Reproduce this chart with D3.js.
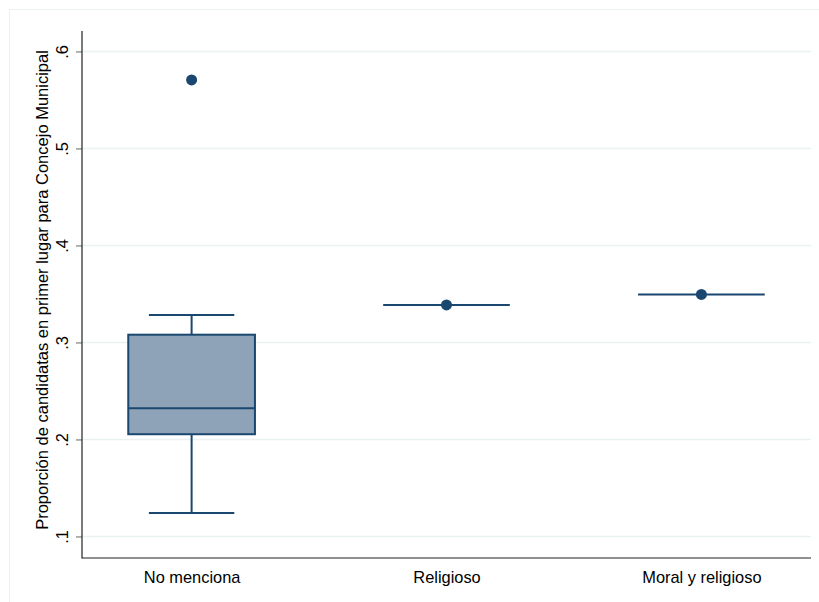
<!DOCTYPE html>
<html><head><meta charset="utf-8">
<script src="https://d3js.org/d3.v7.min.js"></script>
<style>body{margin:0;background:#fff}svg{display:block}</style>
</head><body><div id="c"></div>
<script>
const categories = ["No menciona", "Religioso", "Moral y religioso"];
const whiskerLow = [0.1242, 0.3387, 0.3495];
const q1 = [0.2054, 0.3387, 0.3495];
const median = [0.2322, 0.3387, 0.3495];
const q3 = [0.3080, 0.3387, 0.3495];
const whiskerHigh = [0.3284, 0.3387, 0.3495];
const outliers = [[0.5706], [0.3387], [0.3495]];
const yTicks = [0.1, 0.2, 0.3, 0.4, 0.5, 0.6];
const yTickLabels = [".1", ".2", ".3", ".4", ".5", ".6"];
const yTitle = "Proporción de candidatas en primer lugar para Concejo Municipal";

const W = 819, H = 602;
const navy = "#1a476f", fill = "#8fa3b8", grid = "#eaf2f3";
const font = "'Liberation Sans', Arial, sans-serif";
const svg = d3.select("#c").append("svg").attr("width", W).attr("height", H);

// outer frame
svg.append("rect").attr("x", 9.5).attr("y", 9.5).attr("width", W).attr("height", H)
  .attr("fill", "none").attr("stroke", "#eaf0f2").attr("stroke-width", 1);

const pL = 82, pR = 811, pT = 31, pB = 558;
const y = d3.scaleLinear().domain([0.0778, 0.6211]).range([pB, pT]);
const x = d3.scalePoint().domain(categories).range([pL, pR]).padding(0.43);
const step = x.step();
const boxW = step * 0.497, capW = step * 0.335;

// gridlines
svg.append("g").selectAll("line").data(yTicks).join("line")
  .attr("x1", pL).attr("x2", pR)
  .attr("y1", d => y(d)).attr("y2", d => y(d))
  .attr("stroke", grid).attr("stroke-width", 1.5);

// y axis
const yAxis = d3.axisLeft(y).tickValues(yTicks).tickSize(6)
  .tickFormat((d, i) => yTickLabels[i]);
const gy = svg.append("g").attr("transform", `translate(${pL},0)`).call(yAxis);
gy.select(".domain").remove();
gy.selectAll(".tick line").attr("stroke", "#666").attr("stroke-width", 1);
gy.selectAll(".tick text").attr("font-family", font).attr("font-size", 16.4).attr("fill", "#000")
  .attr("text-anchor", "middle")
  .attr("transform", "rotate(-90)")
  .attr("x", 0).attr("y", -14).attr("dy", 0);

// x axis
const xAxis = d3.axisBottom(x).tickSize(0);
const gx = svg.append("g").attr("transform", `translate(0,${pB})`).call(xAxis);
gx.select(".domain").remove();
gx.selectAll(".tick text").attr("font-family", font).attr("font-size", 16.4).attr("fill", "#000")
  .attr("dy", 0).attr("y", 25);

// axis lines
svg.append("line").attr("x1", pL).attr("x2", pL).attr("y1", pT).attr("y2", pB + 0.5)
  .attr("stroke", "#222").attr("stroke-width", 1.2);
svg.append("line").attr("x1", pL).attr("x2", pR).attr("y1", pB).attr("y2", pB)
  .attr("stroke", "#222").attr("stroke-width", 1.2);

// y title
svg.append("text").attr("transform", `translate(47.5,290) rotate(-90)`)
  .attr("text-anchor", "middle").attr("font-family", font).attr("font-size", 16.5)
  .attr("fill", "#000").text(yTitle);

// boxes
const data = categories.map((c, i) => ({c, lo: whiskerLow[i], q1: q1[i], med: median[i], q3: q3[i], hi: whiskerHigh[i], out: outliers[i]}));
const g = svg.append("g");
data.forEach(d => {
  const cx = x(d.c);
  const gg = g.append("g");
  if (d.q3 > d.q1) {
    gg.append("line").attr("x1", cx).attr("x2", cx).attr("y1", y(d.hi)).attr("y2", y(d.q3))
      .attr("stroke", navy).attr("stroke-width", 2);
    gg.append("line").attr("x1", cx).attr("x2", cx).attr("y1", y(d.q1)).attr("y2", y(d.lo))
      .attr("stroke", navy).attr("stroke-width", 2);
    gg.append("line").attr("x1", cx - capW / 2).attr("x2", cx + capW / 2).attr("y1", y(d.hi)).attr("y2", y(d.hi))
      .attr("stroke", navy).attr("stroke-width", 2);
    gg.append("line").attr("x1", cx - capW / 2).attr("x2", cx + capW / 2).attr("y1", y(d.lo)).attr("y2", y(d.lo))
      .attr("stroke", navy).attr("stroke-width", 2);
    gg.append("rect").attr("x", cx - boxW / 2).attr("y", y(d.q3))
      .attr("width", boxW).attr("height", y(d.q1) - y(d.q3))
      .attr("fill", fill).attr("stroke", navy).attr("stroke-width", 2);
  }
  gg.append("line").attr("x1", cx - boxW / 2).attr("x2", cx + boxW / 2).attr("y1", y(d.med)).attr("y2", y(d.med))
    .attr("stroke", navy).attr("stroke-width", 2);
  d.out.forEach(v => {
    gg.append("circle").attr("cx", cx).attr("cy", y(v)).attr("r", 5.5).attr("fill", navy);
  });
});
</script></body></html>
